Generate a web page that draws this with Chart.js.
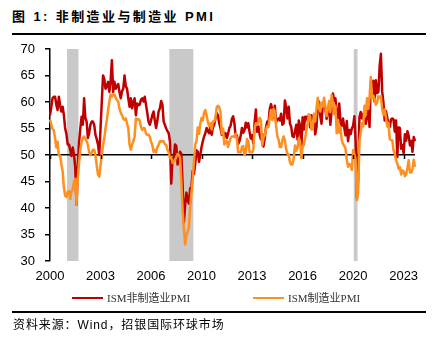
<!DOCTYPE html>
<html>
<head>
<meta charset="utf-8">
<script src="https://cdn.jsdelivr.net/npm/chart.js@4.4.1/dist/chart.umd.min.js"></script>
<style>
  body { margin: 0; width: 436px; height: 340px; background: #fff; position: relative; overflow: hidden;
         font-family: "Liberation Sans", "Noto Sans CJK SC", sans-serif; }
  #title { position: absolute; left: 12px; top: 8px; line-height: 18px; font-size: 13px; font-weight: bold;
           letter-spacing: 2.4px; color: #000; white-space: nowrap; }
  .rule { position: absolute; left: 12px; width: 414px; height: 2px; background: #000; }
  #box { position: absolute; left: 0; top: 40px; width: 436px; height: 252px; }
  #legend { position: absolute; left: 0; top: 291px; width: 436px; height: 14px; }
  .item { position: absolute; top: 0; height: 14px; line-height: 14px; font-size: 11px; color: #333; white-space: nowrap;
          font-family: "Liberation Serif", "Noto Sans CJK SC", serif; }
  .item i { position: absolute; left: 0; top: 6px; width: 31px; height: 2px; }
  .item span { position: absolute; left: 35px; top: 0; }
  #source { position: absolute; left: 13px; top: 318px; line-height: 14px; font-size: 12px; letter-spacing: 0.9px;
            color: #000; white-space: nowrap; }
</style>
</head>
<body>
<div id="title">图 1: 非制造业与制造业 PMI</div>
<div class="rule" style="top:33px"></div>
<div id="box"><canvas id="chart"></canvas></div>
<div id="legend"></div>
<div class="rule" style="top:311px"></div>
<div id="source">资料来源：Wind，招银国际环球市场</div>

<script>
// ISM 非制造业 PMI, 月度, 2000-01 ~ 2024-02
const nonMfgPmi = [
  57.5, 59.0, 60.7, 61.0, 61.0, 59.5, 58.5, 61.0, 59.4, 58.2, 59.1, 57.5,
  55.0, 54.0, 52.0, 52.0, 51.0, 49.8, 51.4, 50.1, 47.6, 40.6, 48.2, 52.4,
  55.0, 57.2, 55.7, 60.7, 57.0, 56.3, 53.2, 54.1, 55.7, 56.3, 56.3, 55.7,
  53.8, 53.0, 52.0, 50.0, 55.0, 60.0, 65.0, 64.3, 62.5, 63.0, 63.8, 61.9,
  64.0, 67.9, 61.9, 63.8, 62.5, 63.0, 63.4, 61.9, 60.7, 62.0, 62.5, 65.0,
  63.0, 62.5, 60.7, 59.1, 60.7, 58.8, 60.0, 60.7, 57.5, 59.7, 59.4, 59.5,
  60.4, 60.7, 60.1, 61.0, 59.5, 58.0, 56.3, 55.7, 56.5, 57.5, 58.2, 56.5,
  55.1, 56.5, 58.2, 58.8, 60.2, 59.5, 56.3, 55.7, 55.0, 54.5, 54.1, 52.5,
  44.6, 49.3, 49.6, 52.0, 51.7, 48.2, 49.5, 50.6, 50.2, 44.4, 37.3, 40.6,
  42.9, 41.6, 40.8, 43.7, 44.0, 47.0, 46.4, 48.4, 50.9, 50.6, 48.7, 50.1,
  51.5, 52.6, 53.5, 54.1, 55.1, 54.5, 54.1, 55.4, 53.8, 55.2, 55.7, 56.9,
  57.9, 57.5, 56.0, 55.1, 53.8, 54.5, 53.5, 54.1, 53.2, 54.0, 55.1, 55.5,
  56.8, 57.3, 56.0, 53.5, 53.7, 52.1, 52.6, 53.7, 55.1, 54.2, 54.7, 56.1,
  55.2, 56.0, 54.4, 53.1, 53.7, 52.2, 56.0, 58.6, 54.4, 55.4, 53.9, 53.0,
  54.0, 51.6, 53.1, 55.2, 56.3, 56.0, 58.7, 59.6, 58.6, 57.1, 59.3, 56.2,
  56.7, 56.9, 56.5, 57.8, 55.7, 56.0, 60.3, 59.0, 56.9, 59.1, 55.9, 55.3,
  53.5, 53.4, 54.5, 55.7, 52.9, 56.5, 55.5, 51.4, 57.1, 54.8, 57.2, 57.2,
  56.5, 57.6, 55.2, 57.5, 56.9, 57.4, 53.9, 55.3, 59.8, 60.1, 57.4, 55.9,
  59.9, 59.5, 58.8, 56.8, 58.6, 59.1, 55.7, 58.5, 61.6, 60.3, 60.7, 57.6,
  56.7, 59.7, 56.1, 55.5, 56.9, 55.1, 53.7, 56.4, 52.6, 54.7, 53.9, 55.0,
  55.5, 57.3, 52.5, 41.8, 45.4, 57.1, 58.1, 56.9, 57.8, 56.6, 55.9, 57.2,
  58.7, 55.3, 63.7, 62.7, 64.0, 60.1, 64.1, 61.7, 61.9, 66.7, 69.1, 62.0,
  59.9, 56.5, 58.3, 57.1, 55.9, 55.3, 56.7, 56.9, 56.7, 54.4, 56.5, 49.6,
  55.2, 55.1, 51.2, 51.9, 50.3, 53.9, 52.7, 54.5, 53.6, 51.8, 52.7, 50.6,
  53.4, 52.6
];

// ISM 制造业 PMI
const mfgPmi = [
  56.7, 55.8, 54.9, 54.7, 53.2, 51.4, 52.5, 49.9, 49.9, 48.3, 47.0, 43.9,
  42.3, 42.1, 43.1, 43.2, 41.7, 43.1, 43.6, 45.0, 45.5, 40.6, 45.6, 48.5,
  51.0, 52.5, 53.2, 53.5, 53.0, 52.6, 51.9, 50.5, 50.0, 50.5, 51.0, 51.0,
  50.0, 48.0, 46.3, 45.9, 48.0, 50.0, 51.9, 53.2, 55.1, 56.6, 58.5, 60.1,
  61.4, 61.0, 61.4, 61.4, 60.8, 60.4, 60.1, 58.8, 58.0, 57.5, 56.9, 56.6,
  56.9, 56.0, 55.0, 51.9, 51.0, 52.0, 52.6, 53.5, 56.9, 56.6, 56.8, 56.5,
  55.3, 54.7, 55.1, 55.0, 54.0, 53.8, 53.8, 53.5, 52.5, 51.9, 50.6, 51.0,
  50.5, 51.5, 51.9, 52.6, 52.5, 52.6, 52.6, 52.0, 51.9, 51.0, 50.5, 49.4,
  49.5, 48.5, 48.8, 49.0, 49.6, 50.2, 50.0, 49.5, 45.0, 39.5, 36.2, 33.1,
  34.9, 35.5, 36.3, 40.1, 42.8, 45.5, 49.0, 52.0, 52.6, 55.2, 54.0, 55.9,
  57.0, 56.5, 58.0, 58.5, 57.5, 56.2, 55.5, 56.0, 54.8, 56.3, 56.3, 57.0,
  59.0, 59.3, 59.0, 58.2, 54.0, 55.0, 52.0, 52.5, 52.6, 51.5, 52.4, 53.2,
  53.5, 53.5, 53.4, 54.0, 53.0, 50.5, 50.5, 50.5, 51.5, 51.7, 50.0, 50.5,
  53.0, 52.5, 50.5, 50.5, 50.5, 51.0, 55.0, 56.0, 55.7, 56.2, 57.0, 56.5,
  51.8, 53.2, 53.7, 54.9, 55.4, 55.3, 57.1, 58.5, 56.6, 58.7, 58.2, 55.5,
  53.5, 52.9, 51.5, 51.5, 52.8, 53.5, 52.7, 51.1, 50.2, 50.1, 48.6, 48.2,
  48.2, 49.5, 51.8, 50.8, 51.3, 53.2, 52.6, 49.4, 51.5, 51.9, 53.2, 54.7,
  56.0, 57.7, 57.2, 54.8, 54.9, 57.8, 56.3, 58.8, 60.8, 58.7, 58.2, 59.7,
  59.1, 60.8, 59.3, 57.3, 58.7, 60.2, 58.1, 61.3, 59.8, 57.7, 59.3, 54.1,
  56.6, 54.2, 55.3, 52.8, 52.1, 51.7, 51.2, 49.1, 47.8, 48.3, 48.1, 47.2,
  50.9, 50.1, 49.1, 41.5, 43.1, 52.6, 54.2, 56.0, 55.4, 59.3, 57.5, 60.7,
  58.7, 60.8, 64.7, 60.7, 61.2, 60.6, 59.5, 59.9, 61.1, 60.8, 61.1, 58.7,
  57.6, 58.6, 57.1, 55.4, 56.1, 53.0, 52.8, 52.8, 50.9, 50.2, 49.0, 48.4,
  47.4, 47.7, 46.3, 47.1, 46.9, 46.0, 46.4, 47.6, 49.0, 46.7, 46.7, 47.4,
  49.1, 47.8
];

const seriesNames = ['ISM非制造业PMI', 'ISM制造业PMI'];
const seriesColors = ['#c00000', '#ff8f1f'];
const xTickLabels = ['2000', '2003', '2006', '2010', '2013', '2016', '2020', '2023'];
const xTickEvery = 40; // 每40个月一个刻度
// 美国经济衰退期 (NBER)
const recessions = [['2001-03', '2001-11'], ['2007-12', '2009-06'], ['2020-02', '2020-04']];

// 月份标签
const months = nonMfgPmi.map((v, i) => {
  let y = 2000 + Math.floor(i / 12);
  let m = i % 12 + 1;
  return y + '-' + (m < 10 ? '0' + m : m);
});

// 灰色衰退区间, 画在坐标轴之前
const recessionShade = {
  id: 'recessionShade',
  beforeDraw(chart) {
    const {ctx, chartArea, scales: {x}} = chart;
    const half = (x.getPixelForValue(1) - x.getPixelForValue(0)) / 2;
    ctx.save();
    ctx.fillStyle = '#c9c9c9';
    recessions.forEach(([a, b]) => {
      const x0 = x.getPixelForValue(months.indexOf(a)) - half;
      const x1 = x.getPixelForValue(months.indexOf(b)) + half;
      ctx.fillRect(x0, chartArea.top, x1 - x0, chartArea.bottom - chartArea.top);
    });
    ctx.restore();
  }
};

// x轴刻度线画在50线上
const midTicks = {
  id: 'midTicks',
  afterDraw(chart) {
    const {ctx, scales: {x, y}} = chart;
    const py = Math.round(y.getPixelForValue(50));
    ctx.save();
    ctx.strokeStyle = '#000';
    ctx.lineWidth = 1.5;
    for (let i = 0; i < months.length; i += xTickEvery) {
      const px = Math.round(x.getPixelForValue(i)) + 0.5;
      ctx.beginPath();
      ctx.moveTo(px, py);
      ctx.lineTo(px, py + 4);
      ctx.stroke();
    }
    ctx.restore();
  }
};

Chart.defaults.font.family = '"Liberation Sans", Arial, sans-serif';
Chart.defaults.color = '#000';

const chart = new Chart(document.getElementById('chart'), {
  type: 'line',
  data: {
    labels: months,
    datasets: [
      {label: seriesNames[0], data: nonMfgPmi, borderColor: seriesColors[0], backgroundColor: seriesColors[0], order: 2},
      {label: seriesNames[1], data: mfgPmi, borderColor: seriesColors[1], backgroundColor: seriesColors[1], order: 1}
    ]
  },
  options: {
    responsive: true,
    maintainAspectRatio: false,
    animation: false,
    layout: {padding: {top: 9, right: 21, left: 0, bottom: 0}},
    elements: {
      point: {radius: 0},
      line: {borderWidth: 2.5, tension: 0, borderJoinStyle: 'round'}
    },
    plugins: {
      legend: {display: false},
      tooltip: {enabled: false}
    },
    scales: {
      x: {
        type: 'category',
        border: {display: false},
        grid: {display: false},
        ticks: {
          autoSkip: false,
          maxRotation: 0,
          padding: 0,
          font: {size: 13},
          callback: (v, i) => i % xTickEvery === 0 ? xTickLabels[i / xTickEvery] : null
        },
        afterFit: s => { s.height = 31; }
      },
      y: {
        min: 30,
        max: 70,
        ticks: {stepSize: 5, padding: 10, font: {size: 13}},
        border: {display: true, color: '#000', width: 1.5},
        grid: {
          color: c => c.tick && c.tick.value === 50 ? '#000' : 'rgba(0,0,0,0)',
          lineWidth: 1.5,
          tickColor: '#000',
          tickLength: 5,
          tickWidth: 1.5
        },
        afterFit: s => { s.width = 50; s.paddingTop = 0; s.paddingBottom = 0; }
      }
    }
  },
  plugins: [recessionShade, midTicks]
});

// 图例
const legendPos = [72, 253];
const legend = document.getElementById('legend');
seriesNames.forEach((name, i) => {
  let item = document.createElement('div');
  item.className = 'item';
  item.style.left = legendPos[i] + 'px';
  item.innerHTML = '<i style="background:' + seriesColors[i] + '"></i><span>' + name + '</span>';
  legend.appendChild(item);
});
</script>
</body>
</html>
